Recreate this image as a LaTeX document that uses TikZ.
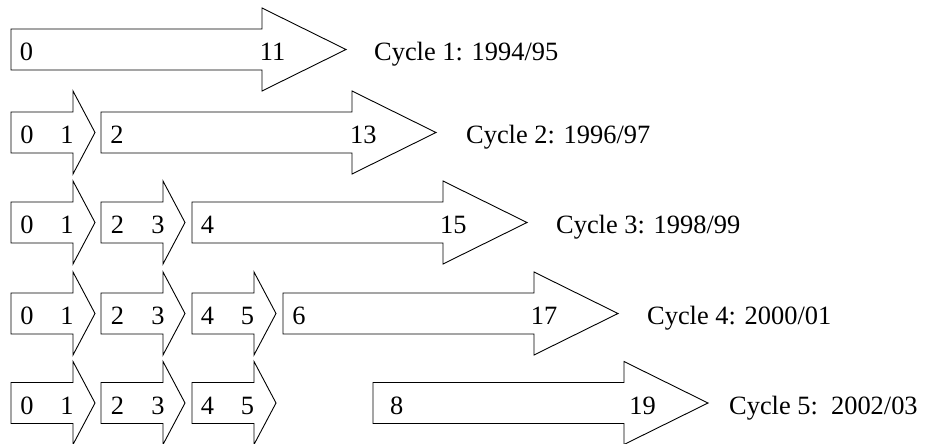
\documentclass[tikz,border=0pt]{standalone}
\usepackage{fontspec}
\setmainfont{Liberation Serif}
\newcommand\BigArr[2]{%
  \draw[arrowshape] (#1,#2-20.5) -- (#1+251,#2-20.5) -- (#1+251,#2-41.5) -- (#1+335,#2)
    -- (#1+251,#2+41.5) -- (#1+251,#2+20.5) -- (#1,#2+20.5) -- cycle;}
\newcommand\SmallArr[2]{%
  \draw[arrowshape] (#1,#2-20.5) -- (#1+62,#2-20.5) -- (#1+62,#2-41.5) -- (#1+84,#2)
    -- (#1+62,#2+41.5) -- (#1+62,#2+20.5) -- (#1,#2+20.5) -- cycle;}
\begin{document}
\begin{tikzpicture}[x=1pt,y=-1pt,
  arrowshape/.style={draw=black, fill=white, line width=0.9pt, line join=miter},
  num/.style={inner sep=0pt, anchor=base, font=\fontsize{26.4}{30}\selectfont},
  lbl/.style={inner sep=0pt, anchor=base west, font=\fontsize{26.4}{30}\selectfont}]
\useasboundingbox (0,0) rectangle (926,444);
% Row 1
\BigArr{11}{49.5}
\node[num] (r1a) at (26.5,60.9) {0};
\node[num] (r1b) at (272.5,60.9) {11};
\node[lbl] (c1) at (374,60.9) {Cycle 1: 1994/95};
% Row 2
\SmallArr{11}{132.5}
\node[num] (r2s1a) at (27,143.9) {0};
\node[num] (r2s1b) at (67,143.9) {1};
\BigArr{101}{132.5}
\node[num] (r2a) at (117,143.9) {2};
\node[num] (r2b) at (363.3,143.9) {13};
\node[lbl] (c2) at (466,143.9) {Cycle 2: 1996/97};
% Row 3
\SmallArr{11}{222.5}
\node[num] (r3s1a) at (27,233.9) {0};
\node[num] (r3s1b) at (67,233.9) {1};
\SmallArr{101}{222.5}
\node[num] (r3s2a) at (117.5,233.9) {2};
\node[num] (r3s2b) at (158,233.9) {3};
\BigArr{192}{222.5}
\node[num] (r3a) at (207.5,233.9) {4};
\node[num] (r3b) at (453.3,233.9) {15};
\node[lbl] (c3) at (556,233.9) {Cycle 3: 1998/99};
% Row 4
\SmallArr{11}{313.5}
\node[num] (r4s1a) at (27,324.9) {0};
\node[num] (r4s1b) at (67,324.9) {1};
\SmallArr{101}{313.5}
\node[num] (r4s2a) at (117.5,324.9) {2};
\node[num] (r4s2b) at (158,324.9) {3};
\SmallArr{192}{313.5}
\node[num] (r4s3a) at (207.5,324.9) {4};
\node[num] (r4s3b) at (247.5,324.9) {5};
\BigArr{283}{313.5}
\node[num] (r4a) at (299,324.9) {6};
\node[num] (r4b) at (544,324.9) {17};
\node[lbl] (c4) at (647,324.9) {Cycle 4: 2000/01};
% Row 5
\SmallArr{11}{403}
\node[num] (r5s1a) at (27,414.4) {0};
\node[num] (r5s1b) at (67,414.4) {1};
\SmallArr{101}{403}
\node[num] (r5s2a) at (117.5,414.4) {2};
\node[num] (r5s2b) at (158,414.4) {3};
\SmallArr{192}{403}
\node[num] (r5s3a) at (207.5,414.4) {4};
\node[num] (r5s3b) at (247.5,414.4) {5};
\BigArr{373}{403}
\node[num] (r5a) at (396.7,414.4) {8};
\node[num] (r5b) at (642.5,414.4) {19};
\node[lbl] (c5) at (729,414.4) {Cycle 5:\ \ 2002/03};
\end{tikzpicture}
\end{document}
